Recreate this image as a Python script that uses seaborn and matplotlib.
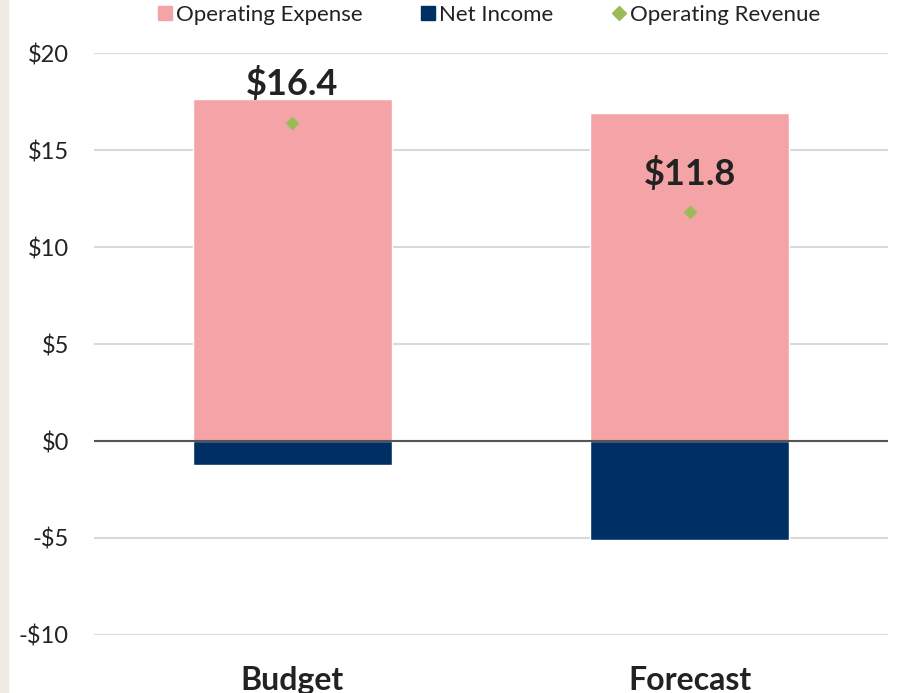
import pandas as pd
import seaborn as sns
import matplotlib.pyplot as plt
from matplotlib.lines import Line2D
from matplotlib.patches import Rectangle

# data ($ millions)
scenarios = ['Budget', 'Forecast']
operating_expense = [17.65, 16.9]
net_income = [-1.25, -5.1]
operating_revenue = [16.4, 11.8]
y_ticks = [-10, -5, 0, 5, 10, 15, 20]

df = pd.DataFrame({
    'scenario': scenarios,
    'expense': operating_expense,
    'net_income': net_income,
    'revenue': operating_revenue,
})

pink = '#F4A4A7'
navy = '#003063'
green = '#9BBB59'
text_color = '#222222'

sns.set_theme(style='white')
plt.rcParams['font.family'] = ['Lato', 'DejaVu Sans']

fig = plt.figure(figsize=(9, 6.93), dpi=100)
# beige strip on the left edge
fig.patches.append(Rectangle((0, 0), 0.009, 1, transform=fig.transFigure,
                             color='#EFEDE3', zorder=0))
ax = fig.add_axes([0.1044, 0.0837, 0.8823, 0.8398])

# gridlines
for t in y_ticks:
    ax.axhline(t, color='#D9D9D9', lw=1.5, zorder=0)

sns.barplot(data=df, x='scenario', y='expense', color=pink, width=0.5,
            saturation=1, ax=ax, zorder=2)
sns.barplot(data=df, x='scenario', y='net_income', color=navy, width=0.5,
            saturation=1, ax=ax, zorder=2)
sns.stripplot(data=df, x='scenario', y='revenue', color=green, marker='D',
              size=7, jitter=False, ax=ax, zorder=4)

ax.axhline(0, color='#555555', lw=1.5, zorder=3)

# revenue labels above the diamonds
for i, v in enumerate(operating_revenue):
    ax.annotate(f'${v:.1f}', (i, v), xytext=(0, 28), textcoords='offset points',
                ha='center', va='center', fontsize=26, fontweight='bold',
                color=text_color, zorder=5)

ax.set_xlim(-0.5, 1.5)
ax.set_ylim(-10, 20)
ax.set_yticks(y_ticks)
ax.set_yticklabels([f'-${abs(t)}' if t < 0 else f'${t}' for t in y_ticks],
                   fontsize=17, color=text_color)
ax.set_xticks(range(len(scenarios)))
ax.set_xticklabels(scenarios, fontsize=23, fontweight='bold', color=text_color)
ax.tick_params(axis='y', length=0, pad=18)
ax.tick_params(axis='x', length=0, pad=22)
ax.set_xlabel('')
ax.set_ylabel('')
sns.despine(ax=ax, left=True, bottom=True)

handles = [
    Line2D([], [], marker='s', color=pink, lw=0, markersize=10),
    Line2D([], [], marker='s', color=navy, lw=0, markersize=10),
    Line2D([], [], marker='D', color=green, lw=0, markersize=7),
]
labels = ['Operating Expense', 'Net Income', 'Operating Revenue']
fig.legend(handles, labels, loc='center', bbox_to_anchor=(0.543, 0.979), ncol=3,
           frameon=False, fontsize=16, handlelength=0.7, handletextpad=0.15,
           columnspacing=2.6, labelcolor=text_color)

fig.savefig('out.png', dpi=100)
